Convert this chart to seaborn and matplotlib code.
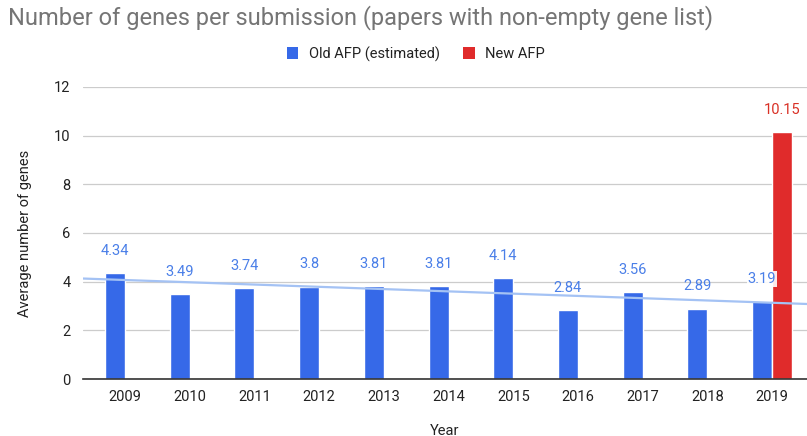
import numpy as np
import pandas as pd
import matplotlib
matplotlib.use('Agg')
import matplotlib.pyplot as plt
import seaborn as sns
from matplotlib.patches import Patch

# data
years = ['2009', '2010', '2011', '2012', '2013', '2014', '2015', '2016', '2017', '2018', '2019']
old_afp = [4.34, 3.49, 3.74, 3.8, 3.81, 3.81, 4.14, 2.84, 3.56, 2.89, 3.19]
new_afp_years = ['2019']
new_afp = [10.15]
series_names = ['Old AFP (estimated)', 'New AFP']
colors = ['#3669e8', '#e02b2b']
label_colors = ['#4a7fe8', '#d93025']

df = pd.concat([
    pd.DataFrame({'year': years, 'value': old_afp, 'series': series_names[0]}),
    pd.DataFrame({'year': new_afp_years, 'value': new_afp, 'series': series_names[1]}),
])

sns.set_style('white')
plt.rcParams['font.family'] = ['Roboto', 'DejaVu Sans']

fig = plt.figure(figsize=(8.07, 4.36), dpi=100)
ax = fig.add_axes([0.1029, 0.1307, 0.8971, 0.6698])

bw = 0.62
sns.barplot(data=df, x='year', y='value', hue='series', order=years,
            hue_order=series_names, palette=colors, width=bw, dodge=True,
            saturation=1, errorbar=None, ax=ax, zorder=2)

# trendline for old AFP (linear fit over category index)
xs = np.arange(len(years))
slope, icpt = np.polyfit(xs, old_afp, 1)
xlim = (-0.65, 10.54)
tx = np.array(xlim)
ax.plot(tx, slope * tx + icpt, color='#a4c2f4', lw=1.6, zorder=3)

# data labels
for i, v in enumerate(old_afp):
    t = ax.annotate(f'{v:g}', (i - bw / 4, v), xytext=(0, 11), textcoords='offset points',
                    ha='center', va='bottom', fontsize=10.5, color=label_colors[0], zorder=4)
    if years[i] == '2019':
        t.set_bbox(dict(facecolor='white', edgecolor='none', pad=0.5, alpha=0.9))
for y, v in zip(new_afp_years, new_afp):
    i = years.index(y)
    ax.annotate(f'{v:g}', (i + bw / 4, v), xytext=(0, 11), textcoords='offset points',
                ha='center', va='bottom', fontsize=10.5, color=label_colors[1], zorder=4)

ax.set_xlim(*xlim)
ax.set_ylim(0, 12)
ax.set_yticks(range(0, 13, 2))
ax.yaxis.grid(True, color='#cccccc', lw=0.9)
ax.set_axisbelow(True)
for s in ['top', 'right', 'left']:
    ax.spines[s].set_visible(False)
ax.spines['bottom'].set_color('#333333')
ax.spines['bottom'].set_linewidth(1.2)
ax.tick_params(axis='both', length=0, labelsize=10.5, colors='#222222', pad=8)
ax.tick_params(axis='y', pad=9)
ax.set_xlabel('Year', fontsize=10.5, color='#222222', labelpad=14)
ax.set_ylabel('Average number of genes', fontsize=10.5, color='#222222', labelpad=16)

ax.get_legend().remove()
handles = [Patch(facecolor=c, edgecolor='none') for c in colors]
fig.legend(handles, series_names, loc='center', bbox_to_anchor=(0.515, 0.876), ncol=2,
           frameon=False, fontsize=10.5, handlelength=0.8, handleheight=0.9,
           handletextpad=0.7, columnspacing=1.6, labelcolor='#222222')

fig.text(0.01, 0.96, 'Number of genes per submission (papers with non-empty gene list)',
         fontsize=17, color='#757575', ha='left', va='center')

fig.savefig('out.png', dpi=100)
